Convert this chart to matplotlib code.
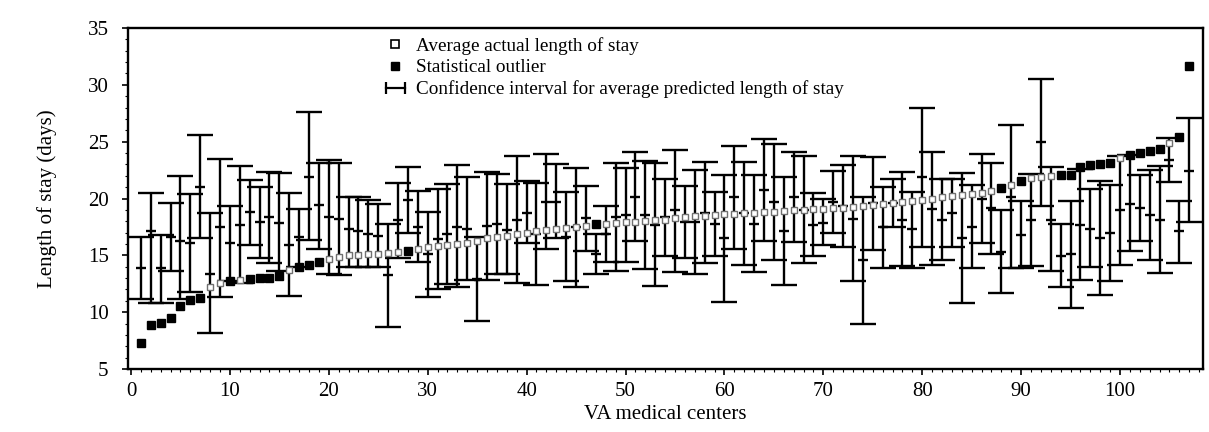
import numpy as np
import matplotlib
matplotlib.use('Agg')
import matplotlib.pyplot as plt
from matplotlib.lines import Line2D
from matplotlib.legend_handler import HandlerLine2D
from matplotlib.ticker import MultipleLocator

# VA medical centers, 1..107 (sorted by average actual length of stay)
centers = np.arange(1, 108)

# Lower end of confidence interval for average predicted length of stay
ci_lower = [
    11.15, 10.8, 10.8, 13.65, 11.15, 11.75, 16.5, 8.2, 11.35, 12.75,
    12.6, 15.9, 14.8, 14.3, 13.65, 11.45, 14.0, 16.35, 15.6, 13.4,
    13.25, 14.0, 14.0, 14.0, 14.0, 8.7, 14.8, 17.0, 14.4, 11.35,
    12.05, 12.5, 12.25, 12.85, 9.25, 12.85, 13.35, 13.35, 12.6, 16.05,
    12.35, 15.55, 16.5, 12.7, 12.25, 15.4, 13.4, 14.45, 13.65, 14.45,
    16.25, 13.8, 12.3, 14.95, 13.55, 14.75, 13.35, 14.3, 14.9, 10.9,
    15.55, 14.15, 13.5, 16.25, 14.55, 12.35, 16.15, 14.3, 14.9, 15.9,
    16.95, 15.75, 12.7, 8.95, 15.45, 13.9, 17.5, 14.05, 13.9, 15.75,
    14.15, 14.55, 15.75, 10.85, 13.85, 16.05, 15.15, 11.65, 13.9, 13.85,
    14.05, 19.35, 13.65, 12.2, 10.4, 12.85, 14.0, 11.5, 12.7, 14.15,
    15.4, 16.25, 14.6, 13.45, 21.45, 14.35, 17.9,
]

# Average predicted length of stay (middle tick)
predicted = [
    13.85, 17.1, 13.85, 16.6, 16.3, 16.1, 21.0, 13.4, 17.45, 16.05,
    17.65, 18.8, 17.95, 18.35, 17.85, 15.9, 16.6, 21.9, 19.45, 18.4,
    18.2, 17.3, 17.1, 16.85, 16.7, 13.25, 18.1, 19.9, 17.5, 15.1,
    16.45, 16.85, 17.5, 17.35, 12.9, 17.6, 17.75, 17.2, 18.15, 18.75,
    16.9, 19.7, 19.7, 16.65, 17.45, 18.25, 15.15, 16.9, 18.4, 18.55,
    20.15, 18.55, 17.65, 18.4, 18.95, 17.95, 17.95, 18.7, 17.75, 16.5,
    20.1, 18.7, 17.75, 20.75, 19.65, 17.15, 20.1, 19.0, 17.65, 17.85,
    19.65, 19.35, 18.2, 14.55, 19.6, 17.45, 19.6, 18.15, 17.3, 21.85,
    19.05, 18.1, 18.75, 16.55, 17.5, 20.0, 19.15, 15.3, 20.15, 16.8,
    18.15, 24.95, 18.15, 14.95, 15.1, 17.7, 17.35, 16.5, 16.95, 18.95,
    19.55, 19.2, 18.55, 18.15, 23.4, 17.1, 22.45,
]

# Upper end of confidence interval
ci_upper = [
    16.6, 20.5, 16.8, 19.6, 22.0, 20.4, 25.6, 18.7, 23.5, 19.3,
    22.9, 21.6, 21.0, 22.35, 22.2, 20.45, 19.1, 27.6, 23.1, 23.35,
    23.15, 20.1, 20.1, 19.85, 19.5, 17.75, 21.4, 22.8, 20.7, 18.85,
    20.85, 21.3, 22.95, 21.9, 16.6, 22.35, 22.15, 21.25, 23.75, 21.55,
    21.35, 23.9, 23.05, 20.6, 22.65, 21.1, 16.85, 19.3, 23.15, 22.65,
    24.05, 23.3, 23.1, 21.75, 24.3, 21.1, 22.55, 23.25, 20.6, 22.05,
    24.6, 23.25, 22.05, 25.2, 24.8, 21.9, 24.1, 23.75, 20.5, 20.0,
    22.45, 22.95, 23.75, 20.1, 23.65, 21.0, 21.7, 22.35, 20.6, 28.0,
    24.05, 21.7, 21.7, 22.25, 21.2, 23.9, 23.1, 19.0, 26.5, 19.8,
    22.15, 30.55, 22.8, 17.75, 19.8, 22.6, 20.8, 21.55, 21.2, 23.75,
    23.8, 22.05, 22.5, 22.85, 25.35, 19.8, 27.05,
]

# Average actual length of stay
actual = [
    7.3, 8.9, 9.05, 9.45, 10.5, 11.05, 11.25, 12.2, 12.6, 12.7,
    12.8, 12.9, 13.0, 13.05, 13.2, 13.7, 13.95, 14.15, 14.45, 14.7,
    14.85, 15.0, 15.05, 15.1, 15.15, 15.2, 15.3, 15.4, 15.6, 15.7,
    15.8, 15.9, 16.0, 16.1, 16.3, 16.5, 16.6, 16.7, 16.9, 17.0,
    17.1, 17.2, 17.3, 17.4, 17.5, 17.6, 17.75, 17.8, 17.85, 17.9,
    17.95, 18.0, 18.1, 18.15, 18.3, 18.4, 18.45, 18.5, 18.55, 18.6,
    18.65, 18.7, 18.75, 18.8, 18.85, 18.9, 18.95, 19.0, 19.05, 19.1,
    19.15, 19.2, 19.25, 19.3, 19.4, 19.5, 19.6, 19.7, 19.8, 19.9,
    20.0, 20.1, 20.2, 20.3, 20.4, 20.5, 20.7, 20.9, 21.2, 21.5,
    21.8, 21.9, 22.0, 22.05, 22.1, 22.8, 22.95, 23.05, 23.15, 23.6,
    23.85, 24.0, 24.15, 24.35, 24.9, 25.4, 31.7,
]


def main():
    plt.rcParams['font.family'] = ['Liberation Serif', 'DejaVu Serif']

    fig = plt.figure(figsize=(12.09, 4.32), dpi=100)
    ax = fig.add_axes([0.1059, 0.1458, 0.8892, 0.7894])

    lower = np.array(ci_lower)
    pred = np.array(predicted)
    upper = np.array(ci_upper)
    act = np.array(actual)

    # Confidence intervals with the predicted mean as a short tick
    ax.errorbar(centers, pred, yerr=[pred - lower, upper - pred],
                fmt='_', color='black', ms=6.5, mew=1.7,
                elinewidth=1.7, capsize=9.5, capthick=1.7, zorder=2)

    # Outlier = actual stay falls outside the interval
    outlier = (act < lower) | (act > upper)
    ax.plot(centers[~outlier], act[~outlier], 's', ls='none',
            mfc='white', mec='#707070', ms=5, mew=1, zorder=3)
    ax.plot(centers[outlier], act[outlier], 's', ls='none',
            color='black', ms=5.5, zorder=3)

    ax.set_xlim(-0.3, 108.4)
    ax.set_ylim(5, 35)
    ax.xaxis.set_major_locator(MultipleLocator(10))
    ax.xaxis.set_minor_locator(MultipleLocator(1))
    ax.yaxis.set_major_locator(MultipleLocator(5))
    ax.yaxis.set_minor_locator(MultipleLocator(1))
    ax.tick_params(which='major', length=4, width=1.2, labelsize=15)
    ax.tick_params(which='minor', length=2, width=0.8)
    ax.tick_params(axis='y', which='major', pad=10)
    ax.tick_params(axis='x', which='major', pad=5)
    for sp in ax.spines.values():
        sp.set_linewidth(1.7)

    ax.set_xlabel('VA medical centers', fontsize=15, labelpad=3)
    ax.set_ylabel('Length of stay (days)', fontsize=15, labelpad=22)

    # Legend
    handles = [
        Line2D([], [], marker='s', ls='none', mfc='white', mec='black', ms=6, mew=1.2),
        Line2D([], [], marker='s', ls='none', color='black', ms=6),
        Line2D([], [], color='black', lw=1.6, marker='|', ms=9, mew=1.6),
    ]
    labels = [
        'Average actual length of stay',
        'Statistical outlier',
        'Confidence interval for average predicted length of stay',
    ]
    ax.legend(handles, labels, loc='upper left', bbox_to_anchor=(0.2344, 0.974),
              frameon=False, fontsize=13.8, handlelength=1.6, handletextpad=0.3,
              labelspacing=0.22, borderpad=0, borderaxespad=0,
              handler_map={handles[2]: HandlerLine2D(numpoints=2)})

    fig.savefig('out.png', dpi=100)


if __name__ == "__main__":
    main()
